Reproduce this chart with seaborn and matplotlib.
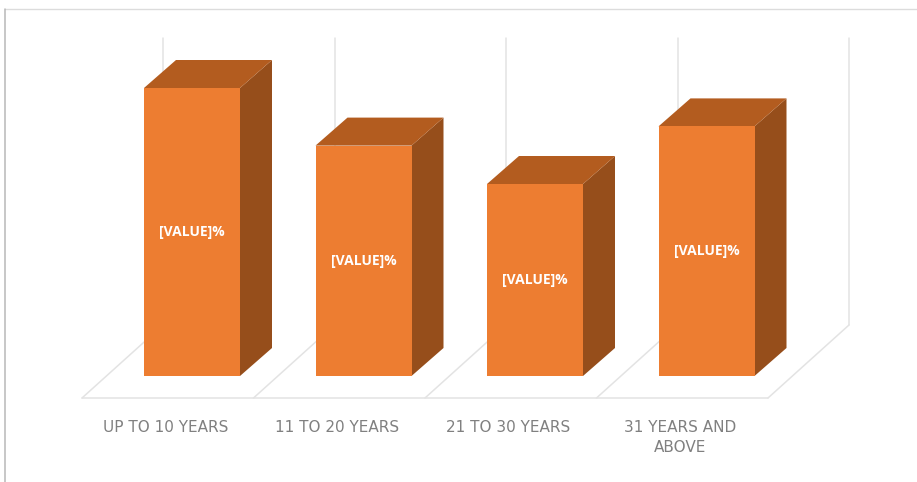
from matplotlib import pyplot as plt
from matplotlib.lines import Line2D
from matplotlib.patches import Polygon
import numpy as np
import pandas as pd
import seaborn as sns

categories = ["UP TO 10 YEARS", "11 TO 20 YEARS", "21 TO 30 YEARS", "31 YEARS AND\nABOVE"]
values = [30, 24, 20, 26]
bar_labels = ["[VALUE]%", "[VALUE]%", "[VALUE]%", "[VALUE]%"]

# Reference size in pixels, used to place the axes
W, H = 917, 482
FRONT = "#ED7D31"
TOP = "#B35C1F"
SIDE = "#964E1B"
GRID = "#E3E3E3"
TEXT = "#808080"

# Axes box: bar base at y=376px, 171.5px per category, 9.6px per value unit
STEP = 171.5
UNIT = 9.6
left, right, top, base = 82.0, 849.0, 38.0, 376.0
BAR_W = 96 / STEP
# fake 3D offsets in data units
BAR_DX, BAR_DY = 32 / STEP, 28 / UNIT
FLOOR_FRONT = 22 / UNIT
FLOOR_BACK = 51 / UNIT
FLOOR_DX = 81 / STEP
LABEL_SHIFT = 26.5 / STEP

sns.set_theme(style="white")
plt.rcParams["font.family"] = ["Open Sans", "DejaVu Sans"]

df = pd.DataFrame({"category": categories, "value": values})

fig = plt.figure(figsize=(W / 100, H / 100), dpi=100, facecolor="white")
ax = fig.add_axes([left / W, 1 - base / H, (right - left) / W, (base - top) / H])

sns.barplot(data=df, x="category", y="value", color=FRONT, saturation=1,
            width=BAR_W, linewidth=0, ax=ax, zorder=4)

x = np.arange(len(categories))
x0 = (82 - 192) / STEP
ax.set_xlim(x0, x0 + (right - left) / STEP)
ax.set_ylim(0, (base - top) / UNIT)

# Floor and back wall lines
edges = x0 + np.arange(len(categories) + 1)
line = dict(color=GRID, lw=1.1, clip_on=False, zorder=1)
ax.plot([edges[0], edges[-1]], [-FLOOR_FRONT, -FLOOR_FRONT], **line)
for e in edges:
    ax.plot([e, e + FLOOR_DX], [-FLOOR_FRONT, FLOOR_BACK], **line)
    ax.plot([e + FLOOR_DX, e + FLOOR_DX], [FLOOR_BACK, ax.get_ylim()[1]], **line)

# Side and top faces for the 3D look
for i, v in zip(x, values):
    l, r = i - BAR_W / 2, i + BAR_W / 2
    ax.add_patch(Polygon([(r, 0), (r + BAR_DX, BAR_DY), (r + BAR_DX, v + BAR_DY), (r, v)],
                         closed=True, fc=SIDE, ec="none", zorder=3))
    ax.add_patch(Polygon([(l, v), (l + BAR_DX, v + BAR_DY), (r + BAR_DX, v + BAR_DY), (r, v)],
                         closed=True, fc=TOP, ec="none", zorder=3))

ax.bar_label(ax.containers[0], labels=bar_labels, label_type="center", color="white",
             fontsize=10, fontweight="bold", zorder=5)

ax.set_xticks(x - LABEL_SHIFT, categories)
ax.tick_params(axis="x", length=0, pad=31.5, labelsize=11, labelcolor=TEXT)
for t in ax.get_xticklabels():
    t.set_family("DejaVu Sans")
    t.set_linespacing(1.45)
ax.set_yticks([])
ax.set_xlabel("")
ax.set_ylabel("")
sns.despine(ax=ax, left=True, bottom=True)
ax.patch.set_alpha(0)

# Frame left over from the screenshot
fig.add_artist(Line2D([5 / W, 1], [1 - 8.5 / H, 1 - 8.5 / H], color="#DCDCDC", lw=1.0))
fig.add_artist(Line2D([5 / W, 5 / W], [0, 1 - 8.5 / H], color="#B8B8B8", lw=1.1))

fig.savefig("out.png", dpi=100)
